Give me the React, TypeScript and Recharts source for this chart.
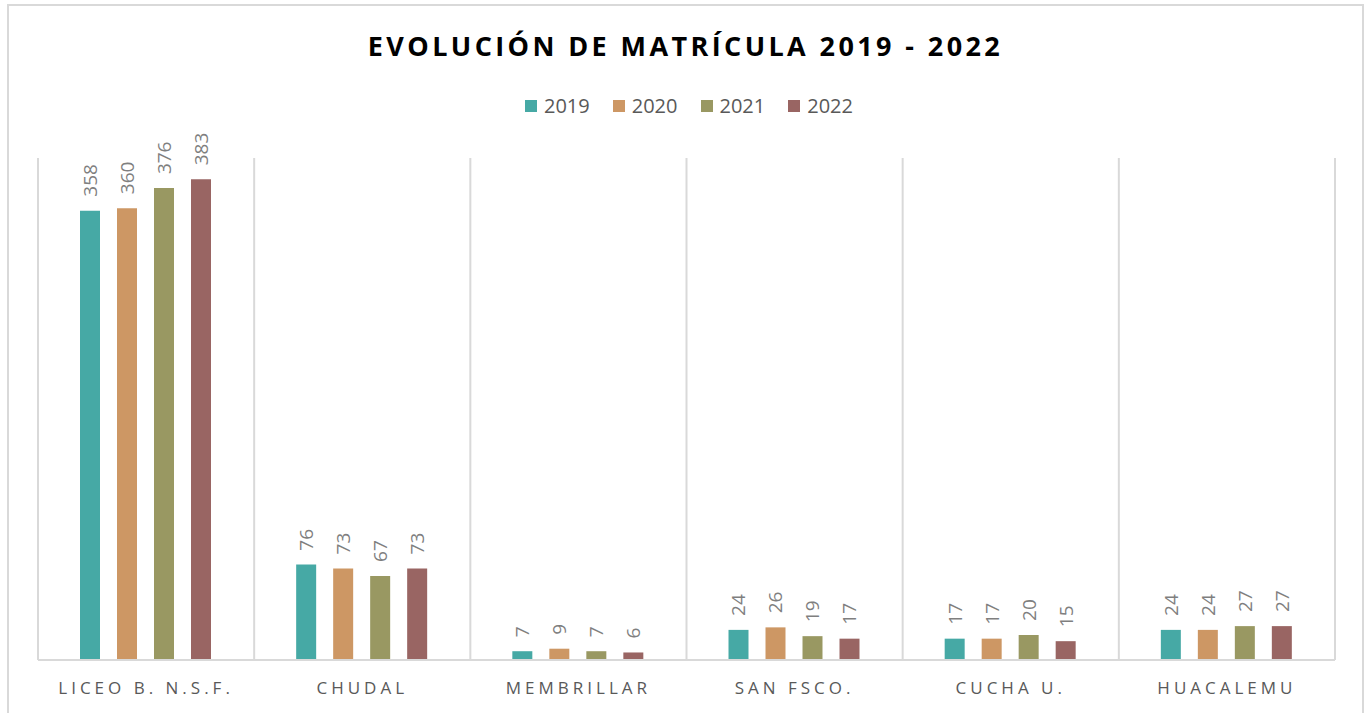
import { BarChart, Bar, XAxis, YAxis, CartesianGrid, Legend, LabelList } from 'recharts';

const schools = ['LICEO B. N.S.F.', 'CHUDAL', 'MEMBRILLAR', 'SAN FSCO.', 'CUCHA U.', 'HUACALEMU'];
const y2019 = [358, 76, 7, 24, 17, 24];
const y2020 = [360, 73, 9, 26, 17, 24];
const y2021 = [376, 67, 7, 19, 20, 27];
const y2022 = [383, 73, 6, 17, 15, 27];

const years = ['2019', '2020', '2021', '2022'];
const colors = ['#46a9a5', '#cd9764', '#999862', '#996563'];

const data = schools.map((name, i) => ({
  name,
  '2019': y2019[i],
  '2020': y2020[i],
  '2021': y2021[i],
  '2022': y2022[i],
}));

const FONT = '"Open Sans", "Noto Sans", sans-serif';

// etiqueta vertical encima de cada barra
const VerticalLabel = (props: any) => {
  const { x, y, width, value } = props;
  const cx = x + width / 2;
  const cy = y - 14;
  return (
    <text
      x={cx}
      y={cy}
      transform={`rotate(-90 ${cx} ${cy})`}
      textAnchor="start"
      dominantBaseline="central"
      fontSize={19}
      fontFamily={FONT}
      fill="#7f7f7f"
    >
      {value}
    </text>
  );
};

const SchoolTick = (props: any) => {
  const { x, y, payload } = props;
  return (
    <text
      x={x}
      y={y + 26}
      textAnchor="middle"
      fontSize={17}
      fontFamily={FONT}
      letterSpacing={4}
      fill="#595959"
    >
      {payload.value}
    </text>
  );
};

const LegendContent = () => (
  <div style={{ display: 'flex', justifyContent: 'center', gap: 23, fontFamily: FONT, paddingLeft: 10 }}>
    {years.map((yr, i) => (
      <div key={yr} style={{ display: 'flex', alignItems: 'center', gap: 7 }}>
        <span style={{ width: 12, height: 12, background: colors[i], display: 'inline-block' }} />
        <span style={{ fontSize: 20, color: '#595959', lineHeight: '24px' }}>{yr}</span>
      </div>
    ))}
  </div>
);

export default function App() {
  return (
    <div
      style={{
        position: 'absolute',
        left: 7,
        top: 4,
        width: 1357,
        height: 716,
        border: '2px solid #d9d9d9',
        borderBottom: 'none',
        boxSizing: 'border-box',
        background: '#fff',
      }}
    >
      <div
        style={{
          position: 'absolute',
          top: 21,
          left: 0,
          width: '100%',
          textAlign: 'center',
          fontFamily: FONT,
          fontWeight: 700,
          fontSize: 27,
          letterSpacing: 3.4,
          color: '#000',
        }}
      >
        EVOLUCIÓN DE MATRÍCULA 2019 - 2022
      </div>
      <BarChart
        width={1350}
        height={708}
        data={data}
        margin={{ top: 128, right: 24, left: 29, bottom: 14 }}
        barCategoryGap={42}
        barGap={17}
      >
        <CartesianGrid
          horizontal={false}
          stroke="#d9d9d9"
          strokeWidth={2}
          verticalCoordinatesGenerator={({ offset }: any) =>
            schools.map((_, i) => offset.left + (i * offset.width) / schools.length).concat(offset.left + offset.width)
          }
        />
        <XAxis
          dataKey="name"
          height={40}
          tickLine={false}
          axisLine={{ stroke: '#d9d9d9', strokeWidth: 2 }}
          tick={<SchoolTick />}
          interval={0}
        />
        <YAxis hide domain={[0, 400]} />
        <Legend
          verticalAlign="top"
          content={<LegendContent />}
          wrapperStyle={{ position: 'absolute', top: 88, left: 0, width: '100%' }}
        />
        {years.map((yr, i) => (
          <Bar key={yr} dataKey={yr} fill={colors[i]} isAnimationActive={false}>
            <LabelList dataKey={yr} content={<VerticalLabel />} />
          </Bar>
        ))}
      </BarChart>
    </div>
  );
}
